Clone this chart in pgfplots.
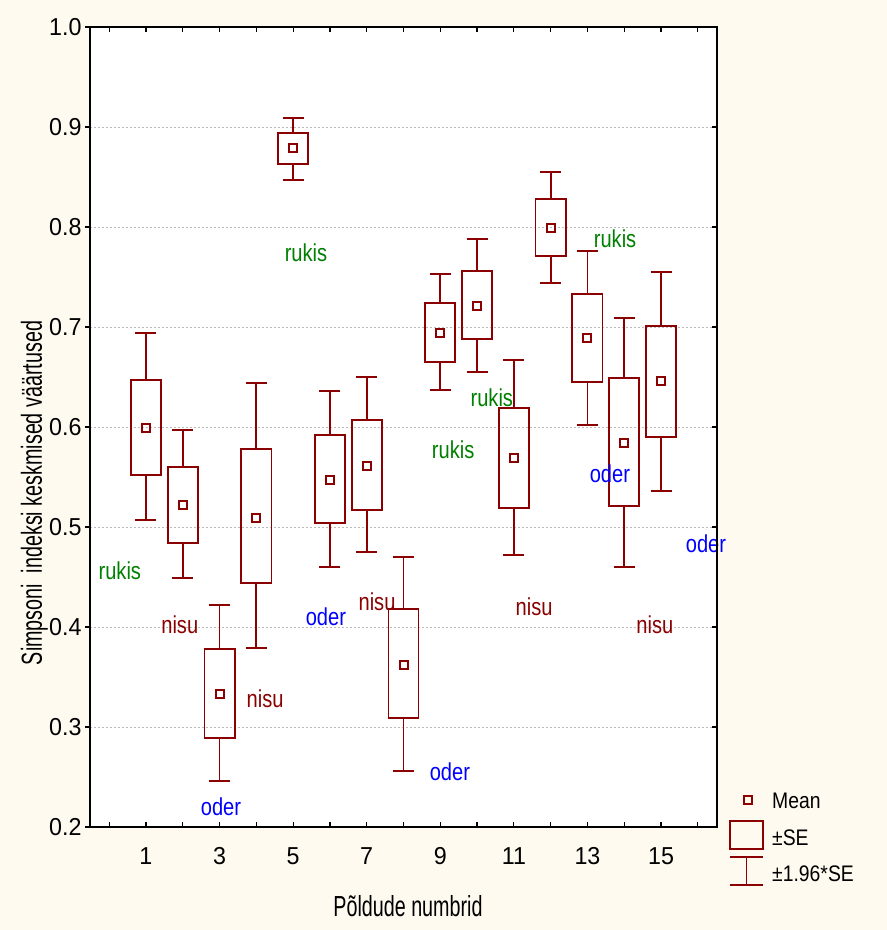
\documentclass[border=0pt]{standalone}
\usepackage{fontspec}
\setmainfont{Liberation Sans}
\newfontfamily\tickfont[FakeStretch=0.95]{Liberation Sans}
\newfontfamily\lblfont[FakeStretch=0.82]{Liberation Sans}
\newfontfamily\titlefont[FakeStretch=0.68]{Liberation Sans}
\newfontfamily\legfont[FakeStretch=0.86]{Liberation Sans}
\usepackage{pgfplots}
\pgfplotsset{compat=1.18}
\usepgfplotslibrary{statistics}
\definecolor{dr}{RGB}{139,0,0}
\definecolor{dg}{RGB}{0,128,0}
\definecolor{bl}{RGB}{0,0,255}
\definecolor{cream}{RGB}{255,250,240}
\pgfplotsset{
  mybox/.style={dr, line width=1.8pt, solid,
    boxplot/draw direction=y,
    boxplot/box extend=0.82, boxplot/whisker extend=0.57,
    boxplot/every box/.style={draw=dr, line width=1.8pt},
    boxplot/every whisker/.style={draw=dr, line width=1.8pt},
    boxplot/draw/median/.code={}},
}
\tikzset{lbl/.style={anchor=base, font=\lblfont\fontsize{24.5}{28}\selectfont}}
\begin{document}
\begin{tikzpicture}
\fill[cream] (-90pt,-103pt) rectangle (797pt,827pt);
\begin{axis}[
  scale only axis, width=627pt, height=800pt,
  xmin=-0.52, xmax=16.52, ymin=0.2, ymax=1.0,
  xtick={0,...,16},
  xticklabels={,1,,3,,5,,7,,9,,11,,13,,15,},
  ytick={0.2,0.3,0.4,0.5,0.6,0.7,0.8,0.9,1.0},
  yticklabels={0.2,0.3,0.4,0.5,0.6,0.7,0.8,0.9,1.0},
  xtick pos=both, ytick pos=left,
  xtick align=inside, ytick align=outside,
  major tick length=5pt,
  axis line style={line width=1.6pt},
  tick style={line width=1.2pt, black},
  ymajorgrids,
  major grid style={dash pattern=on 2pt off 2pt, gray!55, line width=0.8pt},
  axis background/.style={fill=white},
  clip=false,
  ticklabel style={font=\tickfont\fontsize{24.5}{28}\selectfont},
  xticklabel style={yshift=-17pt},
]
% boxes: lower whisker (mean-1.96SE), lower box (mean-SE), mean, upper box, upper whisker
\addplot[mybox, boxplot prepared={draw position=1, lower whisker=0.507, lower quartile=0.552, median=0.599, upper quartile=0.647, upper whisker=0.694}] coordinates {};
\addplot[mybox, boxplot prepared={draw position=2, lower whisker=0.449, lower quartile=0.484, median=0.522, upper quartile=0.560, upper whisker=0.597}] coordinates {};
\addplot[mybox, boxplot prepared={draw position=3, lower whisker=0.246, lower quartile=0.289, median=0.333, upper quartile=0.378, upper whisker=0.422}] coordinates {};
\addplot[mybox, boxplot prepared={draw position=4, lower whisker=0.379, lower quartile=0.444, median=0.509, upper quartile=0.578, upper whisker=0.644}] coordinates {};
\addplot[mybox, boxplot prepared={draw position=5, lower whisker=0.847, lower quartile=0.863, median=0.879, upper quartile=0.894, upper whisker=0.909}] coordinates {};
\addplot[mybox, boxplot prepared={draw position=6, lower whisker=0.460, lower quartile=0.504, median=0.547, upper quartile=0.592, upper whisker=0.636}] coordinates {};
\addplot[mybox, boxplot prepared={draw position=7, lower whisker=0.475, lower quartile=0.517, median=0.561, upper quartile=0.607, upper whisker=0.650}] coordinates {};
\addplot[mybox, boxplot prepared={draw position=8, lower whisker=0.256, lower quartile=0.309, median=0.362, upper quartile=0.418, upper whisker=0.470}] coordinates {};
\addplot[mybox, boxplot prepared={draw position=9, lower whisker=0.637, lower quartile=0.665, median=0.694, upper quartile=0.724, upper whisker=0.753}] coordinates {};
\addplot[mybox, boxplot prepared={draw position=10, lower whisker=0.655, lower quartile=0.688, median=0.721, upper quartile=0.756, upper whisker=0.788}] coordinates {};
\addplot[mybox, boxplot prepared={draw position=11, lower whisker=0.472, lower quartile=0.519, median=0.569, upper quartile=0.619, upper whisker=0.667}] coordinates {};
\addplot[mybox, boxplot prepared={draw position=12, lower whisker=0.744, lower quartile=0.771, median=0.799, upper quartile=0.828, upper whisker=0.855}] coordinates {};
\addplot[mybox, boxplot prepared={draw position=13, lower whisker=0.602, lower quartile=0.645, median=0.689, upper quartile=0.733, upper whisker=0.776}] coordinates {};
\addplot[mybox, boxplot prepared={draw position=14, lower whisker=0.460, lower quartile=0.521, median=0.584, upper quartile=0.649, upper whisker=0.709}] coordinates {};
\addplot[mybox, boxplot prepared={draw position=15, lower whisker=0.536, lower quartile=0.590, median=0.646, upper quartile=0.701, upper whisker=0.755}] coordinates {};
% means
\addplot[only marks, mark=square, mark size=4pt, dr, mark options={line width=2pt, solid}] coordinates {
(1,0.599) (2,0.522) (3,0.333) (4,0.509) (5,0.879) (6,0.547) (7,0.561) (8,0.362)
(9,0.694) (10,0.721) (11,0.569) (12,0.799) (13,0.689) (14,0.584) (15,0.646)};
% text labels
\node[lbl, text=dg] at (axis cs:0.29,0.447) {rukis};
\node[lbl, text=dr] at (axis cs:1.92,0.393) {nisu};
\node[lbl, text=bl] at (axis cs:3.04,0.212) {oder};
\node[lbl, text=dr] at (axis cs:4.24,0.319) {nisu};
\node[lbl, text=dg] at (axis cs:5.35,0.765) {rukis};
\node[lbl, text=bl] at (axis cs:5.89,0.401) {oder};
\node[lbl, text=dr] at (axis cs:7.28,0.416) {nisu};
\node[lbl, text=bl] at (axis cs:9.26,0.247) {oder};
\node[lbl, text=dg] at (axis cs:9.35,0.568) {rukis};
\node[lbl, text=dg] at (axis cs:10.40,0.620) {rukis};
\node[lbl, text=dr] at (axis cs:11.55,0.411) {nisu};
\node[lbl, text=dg] at (axis cs:13.75,0.779) {rukis};
\node[lbl, text=bl] at (axis cs:13.61,0.544) {oder};
\node[lbl, text=dr] at (axis cs:14.83,0.393) {nisu};
\node[lbl, text=bl] at (axis cs:16.22,0.474) {oder};
\end{axis}
\begin{axis}[
  scale only axis, width=627pt, height=800pt,
  xmin=-0.52, xmax=16.52, ymin=0.2, ymax=1.0,
  axis x line=none, axis y line*=right,
  ytick={0.2,0.3,0.4,0.5,0.6,0.7,0.8,0.9,1.0}, yticklabels={},
  ytick align=inside, major tick length=5pt,
  axis line style={line width=1.6pt, -},
  tick style={line width=1.2pt, black},
]
\addplot[draw=none] coordinates {(0,0.5)};
\end{axis}
% axis titles
\node[rotate=90, anchor=base, font=\titlefont\fontsize{29}{34}\selectfont] at (-48pt,334pt) {Simpsoni\ \ indeksi keskmised väärtused};
\node[anchor=base, font=\titlefont\fontsize{29}{34}\selectfont] at (318pt,-89pt) {Põldude numbrid};
% legend
\draw[dr,line width=2pt] (654.3pt,23.3pt) rectangle (661.7pt,30.7pt);
\draw[dr,line width=1.8pt] (640pt,6pt) rectangle (673pt,-22pt);
\draw[dr,line width=1.8pt] (640pt,-30pt) -- (673pt,-30pt) (656.5pt,-30pt) -- (656.5pt,-58pt) (640pt,-58pt) -- (673pt,-58pt);
\node[anchor=base west, inner sep=0pt, font=\legfont\fontsize{22.5}{26}\selectfont] at (682pt,18pt) {Mean};
\node[anchor=base west, inner sep=0pt, font=\legfont\fontsize{22.5}{26}\selectfont] at (682pt,-19pt) {±SE};
\node[anchor=base west, inner sep=0pt, font=\legfont\fontsize{22.5}{26}\selectfont] at (682pt,-55pt) {±1.96*SE};
\pgfresetboundingbox
\path[use as bounding box] (-90pt,-103pt) rectangle (797pt,827pt);
\end{tikzpicture}
\end{document}
